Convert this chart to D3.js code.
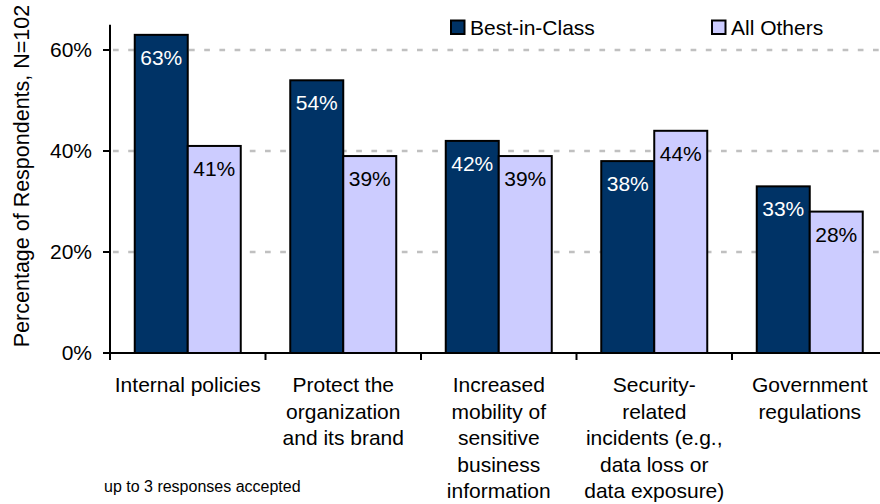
<!DOCTYPE html>
<html>
<head>
<meta charset="utf-8">
<script src="https://cdn.jsdelivr.net/npm/d3@7"></script>
<style>
  body { margin: 0; background: #fff; }
  svg { display: block; font-family: "Liberation Sans", Arial, sans-serif; }
</style>
</head>
<body>
<div id="chart"></div>
<script>
// data
var categories = [
  ["Internal policies"],
  ["Protect the", "organization", "and its brand"],
  ["Increased", "mobility of", "sensitive", "business", "information"],
  ["Security-", "related", "incidents (e.g.,", "data loss or", "data exposure)"],
  ["Government", "regulations"]
];
var seriesNames = ["Best-in-Class", "All Others"];
var bestInClass = [63, 54, 42, 38, 33];
var allOthers = [41, 39, 39, 44, 28];
var yTicks = [0, 20, 40, 60];
var colors = ["#003366", "#CCCCFF"];
var labelColors = ["#fff", "#000"];

var w = 880, h = 504;
var padLeft = 110, plotRight = 887.5, plotTop = 24.75, plotBottom = 353;

var svg = d3.select("#chart").append("svg").attr("width", w).attr("height", h);

var idx = d3.range(categories.length);
var x = d3.scaleBand().domain(idx).range([padLeft, plotRight]).paddingInner(0).paddingOuter(0);
var xs = d3.scaleBand().domain([0, 1]).range([24.75, 24.75 + 106]);
var y = d3.scaleLinear().domain([0, 65]).range([plotBottom, plotTop]);

// grid lines
svg.selectAll(".grid").data(yTicks.filter(function(d){ return d > 0; })).enter().append("line")
  .attr("x1", padLeft + 3).attr("x2", w).attr("y1", y).attr("y2", y)
  .attr("stroke", "#c0c0c0").attr("stroke-width", 2.5).attr("stroke-dasharray", "5.7,9.5");

// bars
var groups = [bestInClass, allOthers];
groups.forEach(function(vals, s) {
  svg.selectAll(".bar" + s).data(vals).enter().append("rect")
    .attr("x", function(d, i){ return x(i) + xs(s); })
    .attr("y", function(d){ return y(d); })
    .attr("width", xs.bandwidth())
    .attr("height", function(d){ return y(0) - y(d); })
    .attr("fill", colors[s]).attr("stroke", "#000").attr("stroke-width", 2);
  svg.selectAll(".val" + s).data(vals).enter().append("text")
    .attr("x", function(d, i){ return x(i) + xs(s) + xs.bandwidth() / 2; })
    .attr("y", function(d){ return y(d) + 30; })
    .attr("text-anchor", "middle").attr("font-size", 21).attr("fill", labelColors[s])
    .text(function(d){ return d + "%"; });
});

// y axis
svg.append("line").attr("x1", padLeft).attr("x2", padLeft).attr("y1", plotTop).attr("y2", plotBottom + 7)
  .attr("stroke", "#000").attr("stroke-width", 2);
svg.selectAll(".ytick").data(yTicks).enter().append("line")
  .attr("x1", padLeft - 7).attr("x2", padLeft).attr("y1", y).attr("y2", y)
  .attr("stroke", "#000").attr("stroke-width", 2);
svg.selectAll(".ylab").data(yTicks).enter().append("text")
  .attr("x", padLeft - 18).attr("y", y).attr("dy", ".35em").attr("text-anchor", "end")
  .attr("font-size", 21).text(function(d){ return d + "%"; });

// x axis
svg.append("line").attr("x1", padLeft).attr("x2", w).attr("y1", plotBottom).attr("y2", plotBottom)
  .attr("stroke", "#000").attr("stroke-width", 2);
svg.selectAll(".xtick").data(d3.range(1, categories.length)).enter().append("line")
  .attr("x1", function(d){ return x(d); }).attr("x2", function(d){ return x(d); })
  .attr("y1", plotBottom).attr("y2", plotBottom + 7)
  .attr("stroke", "#000").attr("stroke-width", 2);

// category labels
categories.forEach(function(lines, i) {
  var cx = x(i) + x.bandwidth() / 2;
  var t = svg.append("text").attr("text-anchor", "middle").attr("font-size", 21)
    .attr("x", cx).attr("y", 392);
  lines.forEach(function(l, k) {
    t.append("tspan").attr("x", cx).attr("dy", k === 0 ? 0 : 26.6).text(l);
  });
});

// y title
svg.append("text").attr("transform", "translate(29,176) rotate(-90)")
  .attr("text-anchor", "middle").attr("font-size", 21.5)
  .text("Percentage of Respondents, N=102");

// legend
var legendX = [451, 712];
seriesNames.forEach(function(n, s) {
  svg.append("rect").attr("x", legendX[s]).attr("y", 20.5).attr("width", 13.5).attr("height", 13.5)
    .attr("fill", colors[s]).attr("stroke", "#000").attr("stroke-width", 2);
  svg.append("text").attr("x", legendX[s] + 19).attr("y", 35).attr("font-size", 21).text(n);
});

// footnote
svg.append("text").attr("x", 104).attr("y", 492).attr("font-size", 16)
  .text("up to 3 responses accepted");
</script>
</body>
</html>
